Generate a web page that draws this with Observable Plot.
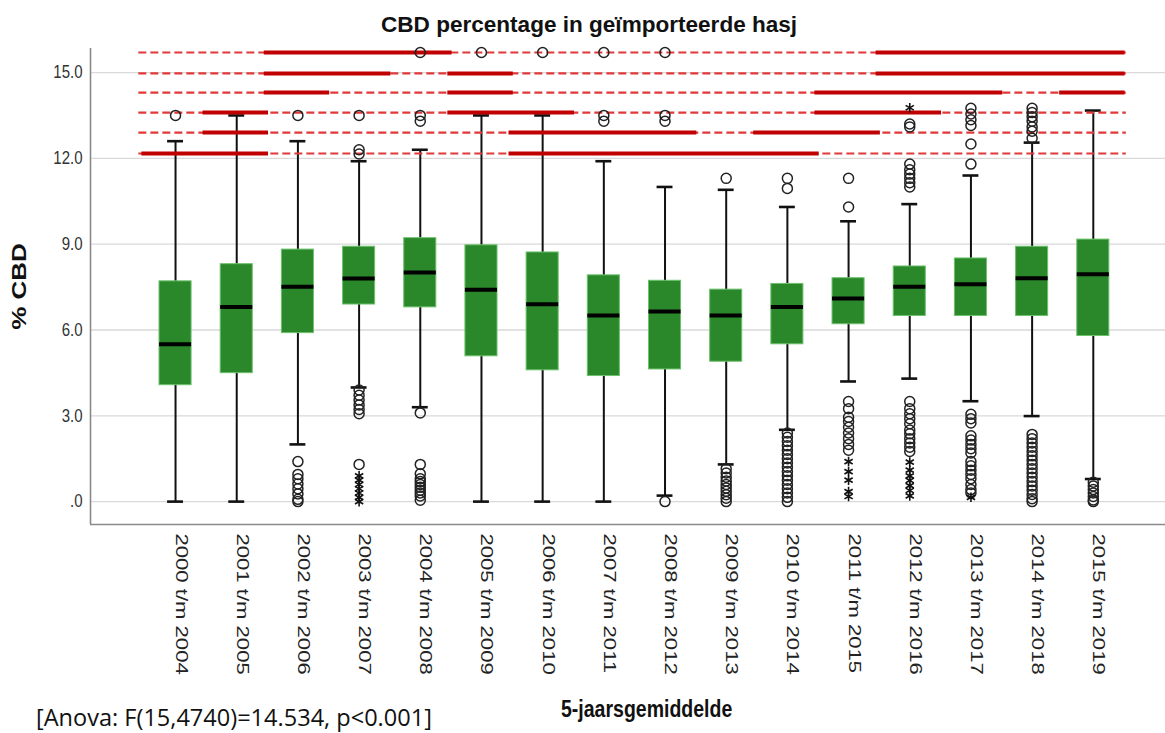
<!DOCTYPE html>
<html><head><meta charset="utf-8">
<script src="https://cdn.jsdelivr.net/npm/d3@7"></script>
<script src="https://cdn.jsdelivr.net/npm/@observablehq/plot@0.6"></script>
<style>
body{margin:0;background:#fff;}
#wrap{position:relative;width:1165px;height:733px;overflow:hidden;background:#fff;font-family:"Liberation Sans",Arial,sans-serif;}
.lbl{position:absolute;white-space:nowrap;display:inline-block;line-height:1;transform-origin:0 50%;color:#111;}
#title{left:381px;top:14px;font-size:22.5px;font-weight:bold;}
#xlabel{left:561px;top:700px;font-size:19.5px;font-weight:bold;}
#caption{left:36px;top:706px;font-size:23px;font-family:"Open Sans",sans-serif;color:#111;}
#chart{position:absolute;left:0;top:44px;}
</style></head><body>
<div id="wrap">
<div id="title" class="lbl">CBD percentage in geïmporteerde hasj</div>
<div id="chart"></div>
<div id="xlabel" class="lbl">5-jaarsgemiddelde</div>
<div id="caption" class="lbl">[Anova: F(15,4740)=14.534, p&lt;0.001]</div>
</div>
<script>
const groups = ["2000 t/m 2004","2001 t/m 2005","2002 t/m 2006","2003 t/m 2007","2004 t/m 2008","2005 t/m 2009","2006 t/m 2010","2007 t/m 2011","2008 t/m 2012","2009 t/m 2013","2010 t/m 2014","2011 t/m 2015","2012 t/m 2016","2013 t/m 2017","2014 t/m 2018","2015 t/m 2019"];
const q1          = [4.07, 4.49, 5.89, 6.89, 6.79, 5.08, 4.59, 4.39, 4.62, 4.89, 5.50, 6.20, 6.49, 6.49, 6.49, 5.79];
const median      = [5.50, 6.80, 7.51, 7.80, 8.01, 7.41, 6.90, 6.51, 6.65, 6.51, 6.80, 7.10, 7.51, 7.60, 7.81, 7.95];
const q3          = [7.70, 8.30, 8.81, 8.91, 9.21, 8.96, 8.71, 7.91, 7.72, 7.41, 7.61, 7.81, 8.22, 8.50, 8.91, 9.16];
const whiskerLow  = [0, 0, 2.0, 3.99, 3.30, 0, 0, 0, 0.21, 1.30, 2.51, 4.20, 4.30, 3.51, 2.99, 0.79];
const whiskerHigh = [12.6, 13.5, 12.6, 11.9, 12.3, 13.5, 13.5, 11.9, 11.0, 10.9, 10.3, 9.8, 10.4, 11.4, 12.55, 13.67];
const outliers = [
  [13.5],
  [],
  [13.5, 1.4, 0.95, 0.8, 0.62, 0.45, 0.27, 0.08, 0.0],
  [13.5, 12.3, 12.15, 3.9, 3.72, 3.55, 3.38, 3.22, 3.07, 1.3],
  [15.7, 13.5, 13.3, 3.1, 1.3, 0.97, 0.8, 0.7, 0.6, 0.5, 0.4, 0.3, 0.2, 0.05],
  [15.7],
  [15.7],
  [15.7, 13.5, 13.3],
  [15.7, 13.5, 13.3, 0.0],
  [11.3, 1.15, 1.0, 0.85, 0.72, 0.6, 0.48, 0.36, 0.24, 0.12, 0.0],
  [11.3, 10.95, 2.4, 2.25, 2.1, 1.95, 1.8, 1.65, 1.5, 1.35, 1.2, 1.05, 0.9, 0.75, 0.6, 0.45, 0.3, 0.15, 0.0],
  [11.3, 10.3, 3.5, 3.25, 2.95, 2.8, 2.6, 2.4, 2.2, 2.0, 1.8],
  [13.2, 13.1, 11.8, 11.6, 11.45, 11.3, 11.15, 11.0, 3.5, 3.25, 3.07, 2.9, 2.72, 2.5, 2.37, 2.2, 2.05, 1.9, 1.75],
  [13.75, 13.55, 13.35, 13.15, 12.5, 11.8, 3.05, 2.9, 2.75, 2.3, 2.15, 2.0, 1.85, 1.7, 1.4, 1.25, 1.1, 0.95, 0.8, 0.6, 0.42, 0.3],
  [13.75, 13.6, 13.45, 13.3, 13.1, 12.95, 12.7, 2.35, 2.2, 2.05, 1.9, 1.75, 1.6, 1.45, 1.3, 1.15, 1.0, 0.85, 0.7, 0.55, 0.4, 0.25, 0.1, 0.0],
  [0.68, 0.55, 0.42, 0.3, 0.18, 0.06, 0.0]
];
const extremes = [
  [], [], [],
  [0.9, 0.75, 0.6, 0.45, 0.3, 0.15, 0.0],
  [], [], [], [], [], [], [],
  [1.4, 1.05, 0.75, 0.35, 0.18],
  [13.77, 1.38, 1.1, 0.9, 0.74, 0.56, 0.39, 0.2],
  [0.15],
  [], []
];
// Homogeneous-subset lines (row levels, and solid segments from group to group)
const subsetLevels = [15.70, 14.97, 14.30, 13.60, 12.90, 12.17];
const segmentRow   = [0, 0, 1, 1, 1, 2, 2, 2, 2, 3, 3, 3, 4, 4, 4, 5, 5];
const segmentFrom  = [2, 12, 2, 5, 12, 2, 5, 11, 15, 1, 5, 11, 1, 6, 10, 0, 6];
const segmentTo    = [4, 15, 3, 5, 15, 2, 5, 13, 15, 1, 6, 12, 1, 8, 11, 1, 10];
const yTicks = [0, 3, 6, 9, 12, 15];
const yTitle = "% CBD";

const xDomain = [-1.39, 16.18];
const yDomain = [-0.80, 15.84];
const boxHalf = 0.262, capHalf = 0.13, segL = 0.55, segR = 0.52;
const lastIdx = groups.length - 1;

const idx = d3.range(groups.length);
const boxes = idx.map(i => ({i, q1: q1[i], med: median[i], q3: q3[i], lo: whiskerLow[i], hi: whiskerHigh[i]}));
const circ = idx.flatMap(i => outliers[i].map(v => ({i, v})));
const stars = idx.flatMap(i => extremes[i].map(v => ({i, v})));
const segs = segmentRow.map((r, k) => ({y: subsetLevels[r], a: segmentFrom[k], b: segmentTo[k]}));
const fmt = d => d === 0 ? ".0" : d.toFixed(1);

const plot = Plot.plot({
  width: 1165, height: 650,
  marginTop: 4, marginBottom: 170, marginLeft: 90, marginRight: 0,
  x: {type: "linear", domain: xDomain, axis: null},
  y: {type: "linear", domain: yDomain, axis: null},
  style: {fontFamily: "'Liberation Sans', Arial, sans-serif", background: "white", overflow: "visible"},
  marks: [
    Plot.ruleY(yTicks, {y: d => d, stroke: "#d9d9d9", strokeWidth: 1.3}),
    Plot.ruleX([xDomain[0]], {x: d => d, stroke: "#8a8a8a", strokeWidth: 1.6}),
    Plot.ruleY([yDomain[0]], {y: d => d, stroke: "#8a8a8a", strokeWidth: 1.6}),
    Plot.ruleX(boxes, {x: "i", y1: "lo", y2: "hi", stroke: "#111", strokeWidth: 2}),
    Plot.ruleY(boxes, {y: "lo", x1: d => d.i - capHalf, x2: d => d.i + capHalf, stroke: "#111", strokeWidth: 2.6}),
    Plot.ruleY(boxes, {y: "hi", x1: d => d.i - capHalf, x2: d => d.i + capHalf, stroke: "#111", strokeWidth: 2.6}),
    Plot.ruleY(subsetLevels, {y: d => d, x1: () => 0 - 0.6, x2: () => lastIdx + 0.54, stroke: "#e0393a", strokeWidth: 2.2, strokeDasharray: "8,4"}),
    Plot.ruleY(segs, {y: "y", x1: d => d.a - segL, x2: d => d.b + segR, stroke: "#c00000", strokeWidth: 4}),
    Plot.rect(boxes, {x1: d => d.i - boxHalf, x2: d => d.i + boxHalf, y1: "q1", y2: "q3", fill: "#2a872a", stroke: "#6cc06c", strokeWidth: 1}),
    Plot.ruleY(boxes, {y: "med", x1: d => d.i - boxHalf, x2: d => d.i + boxHalf, stroke: "#000", strokeWidth: 4}),
    Plot.dot(circ, {x: "i", y: "v", r: 5, stroke: "#222", strokeWidth: 1.5, fill: "none"}),
    Plot.dot(stars, {x: "i", y: "v", symbol: "asterisk", r: 4.5, stroke: "#111", strokeWidth: 1.6}),
    Plot.text(yTicks, {y: d => d, frameAnchor: "left", dx: -8, textAnchor: "end", text: fmt, fontSize: 15, fill: "#333"}),
    Plot.text(idx, {x: d => d, frameAnchor: "bottom", dy: 9, rotate: 90, textAnchor: "start", text: d => groups[d], fontSize: 17, fill: "#222"}),
    Plot.text([yTitle], {text: d => d, frameAnchor: "left", dx: -71, rotate: -90, textAnchor: "middle", fontSize: 20, fontWeight: "bold", fill: "#111"})
  ]
});
document.getElementById("chart").appendChild(plot);

const xLabelSet = new Set(groups);
const yLabelSet = new Set(yTicks.map(fmt));
d3.select(plot).selectAll("text").each(function() {
  const s = this.textContent;
  let sx = 1, sy = 1;
  if (xLabelSet.has(s)) sx = 1.3;
  else if (yLabelSet.has(s)) sy = 1.19;
  else if (s === yTitle) sx = 1.3;
  else return;
  const t = this.getAttribute("transform");
  if (t) this.setAttribute("transform", t + ` scale(${sx},${sy})`);
  else { this.style.transformBox = "fill-box"; this.style.transformOrigin = "center"; this.style.transform = `scale(${sx},${sy})`; }
});

function fit(id, w, sy) {
  const el = document.getElementById(id);
  const k = w / el.offsetWidth;
  el.style.transform = `scale(${k},${sy})`;
}
fit("title", 416, 1);
fit("xlabel", 171, 1.19);
fit("caption", 396, 1);
</script>
</body></html>
